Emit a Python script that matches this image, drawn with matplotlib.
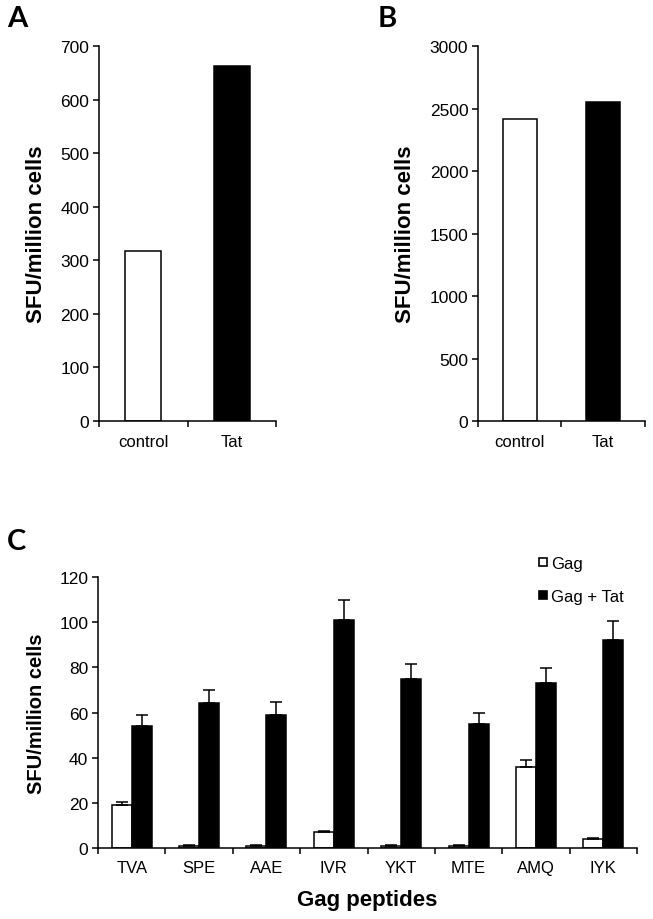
import numpy as np
import matplotlib
matplotlib.use('Agg')
import matplotlib.pyplot as plt
from matplotlib.lines import Line2D

plt.rcParams['font.family'] = ['Liberation Sans', 'DejaVu Sans']

## data
ab_groups = ['control', 'Tat']
a_values = [318, 663]
b_values = [2420, 2550]

peptides = ['TVA', 'SPE', 'AAE', 'IVR', 'YKT', 'MTE', 'AMQ', 'IYK']
gag = [19, 1, 1, 7, 1, 1, 36, 4]
gag_err = [1.3, 0.3, 0.3, 0.6, 0.3, 0.3, 3, 0.4]
gag_tat = [54, 64, 59, 101, 75, 55, 73, 92]
gag_tat_err = [5, 6, 5.5, 9, 6.5, 5, 6.5, 8.5]

LW = 1.1

fig = plt.figure(figsize=(6.53, 9.2), dpi=100)


def style_axes(ax, n):
    for s in ['top', 'right']:
        ax.spines[s].set_visible(False)
    for s in ['left', 'bottom']:
        ax.spines[s].set_linewidth(LW)
    ax.set_xlim(0, n)
    ax.set_xticks(np.arange(n + 1))
    ax.set_xticklabels([])
    ax.tick_params(axis='x', which='major', direction='out', length=4, width=LW)
    ax.tick_params(axis='y', direction='out', length=4, width=LW)


## panel A and B
for pos, vals, ymax, step, lab_x in [
        ([0.1516, 0.5413, 0.2711, 0.4076], a_values, 700, 100, -0.295),
        ([0.732, 0.5413, 0.2557, 0.4076], b_values, 3000, 500, -0.374)]:
    ax = fig.add_axes(pos)
    x = np.arange(len(ab_groups)) + 0.5
    ax.bar(x, vals, width=0.41, color=['white', 'black'], edgecolor='black', linewidth=LW)
    style_axes(ax, len(ab_groups))
    ax.set_ylim(0, ymax)
    ax.set_yticks(np.arange(0, ymax + 1, step))
    ax.set_xticks(x, minor=True)
    ax.set_xticklabels(ab_groups, minor=True, fontsize=12)
    ax.tick_params(axis='x', which='minor', length=0, pad=9)
    ax.tick_params(axis='y', labelsize=12.5, pad=3)
    ax.set_ylabel('SFU/million cells', fontsize=16, fontweight='bold')
    ax.yaxis.set_label_coords(lab_x, 0.5)

fig.text(0.011, 0.979, 'A', fontsize=21, fontweight='bold', family=['Lato', 'DejaVu Sans'], va='center')
fig.text(0.578, 0.979, 'B', fontsize=21, fontweight='bold', family=['Lato', 'DejaVu Sans'], va='center')

## panel C
axc = fig.add_axes([0.1501, 0.0772, 0.8254, 0.2945])
xc = np.arange(len(peptides)) + 0.5
w = 0.297
axc.bar(xc - w / 2, gag, width=w, color='white', edgecolor='black', linewidth=LW,
        yerr=[np.zeros(len(gag)), gag_err], capsize=4.5,
        error_kw={'elinewidth': LW, 'capthick': LW, 'ecolor': 'black'})
axc.bar(xc + w / 2, gag_tat, width=w, color='black', edgecolor='black', linewidth=LW,
        yerr=[np.zeros(len(gag_tat)), gag_tat_err], capsize=4.5,
        error_kw={'elinewidth': LW, 'capthick': LW, 'ecolor': 'black'})
style_axes(axc, len(peptides))
axc.set_ylim(0, 120)
axc.set_yticks(np.arange(0, 121, 20))
axc.set_xticks(xc, minor=True)
axc.set_xticklabels(peptides, minor=True, fontsize=12)
axc.tick_params(axis='x', which='minor', length=0, pad=9)
axc.tick_params(axis='y', labelsize=12.5, pad=3)
axc.set_ylabel('SFU/million cells', fontsize=14.5, fontweight='bold')
axc.yaxis.set_label_coords(-0.0965, 0.5)
axc.set_xlabel('Gag peptides', fontsize=16, fontweight='bold', labelpad=10)

handles = [Line2D([], [], marker='s', linestyle='none', markersize=6, markerfacecolor='white',
                  markeredgecolor='black', markeredgewidth=1.2, label='Gag'),
           Line2D([], [], marker='s', linestyle='none', markersize=6, markerfacecolor='black',
                  markeredgecolor='black', markeredgewidth=1.2, label='Gag + Tat')]
fig.legend(handles=handles, loc='upper left', bbox_to_anchor=(0.812, 0.404),
           frameon=False, fontsize=12, handlelength=0.5, handletextpad=0.25,
           labelspacing=1.1, borderpad=0)

fig.text(0.011, 0.411, 'C', fontsize=21, fontweight='bold', family=['Lato', 'DejaVu Sans'], va='center')

fig.savefig('out.png', dpi=100)
